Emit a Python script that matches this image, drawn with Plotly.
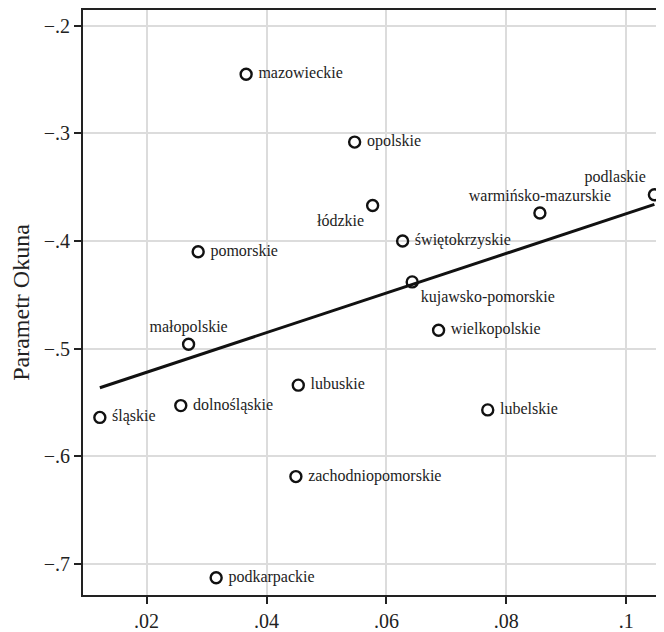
import numpy as np
import plotly.graph_objects as go

regions = ["mazowieckie", "opolskie", "łódzkie", "świętokrzyskie", "warmińsko-mazurskie",
           "podlaskie", "kujawsko-pomorskie", "wielkopolskie", "pomorskie", "małopolskie",
           "lubuskie", "dolnośląskie", "śląskie", "zachodniopomorskie", "podkarpackie", "lubelskie"]
x_vals = [0.0366, 0.0547, 0.0577, 0.0627, 0.0856,
          0.1047, 0.0643, 0.0687, 0.0286, 0.0270,
          0.0453, 0.0257, 0.0122, 0.0449, 0.0316, 0.0769]
y_vals = [-0.245, -0.308, -0.367, -0.400, -0.374,
          -0.357, -0.438, -0.483, -0.410, -0.496,
          -0.534, -0.553, -0.564, -0.619, -0.713, -0.557]
label_pos = ["middle right", "middle right", "bottom left", "middle right", "top center",
             "top left", "bottom right", "middle right", "middle right", "top center",
             "middle right", "middle right", "middle right", "middle right", "middle right", "middle right"]

x_ticks = [0.02, 0.04, 0.06, 0.08, 0.1]
x_ticktext = [".02", ".04", ".06", ".08", ".1"]
y_ticks = [-0.7, -0.6, -0.5, -0.4, -0.3, -0.2]
y_ticktext = ["−.7", "−.6", "−.5", "−.4", "−.3", "−.2"]

xs = np.array(x_vals)
ys = np.array(y_vals)
slope, intercept = np.polyfit(xs, ys, 1)
fit_x = [xs.min(), xs.max()]
fit_y = [intercept + slope * v for v in fit_x]

font = "Liberation Serif, Times New Roman, serif"
ink = "#222222"
label_offset_sizes = [18 if p == "middle right" else 12 for p in label_pos]

fig = go.Figure()
fig.add_trace(go.Scatter(x=fit_x, y=fit_y, mode="lines",
                         line=dict(color="#111111", width=3), hoverinfo="skip"))
fig.add_trace(go.Scatter(x=x_vals, y=y_vals, mode="markers",
                         marker=dict(symbol="circle-open", size=11, color="#111111",
                                     line=dict(width=2.4, color="#111111"))))
fig.add_trace(go.Scatter(x=x_vals, y=y_vals, mode="markers+text", text=regions,
                         textposition=label_pos, hoverinfo="skip",
                         textfont=dict(family=font, size=16, color=ink),
                         marker=dict(size=label_offset_sizes, color="rgba(0,0,0,0)",
                                     line=dict(width=0))))

fig.update_layout(
    width=656, height=624, showlegend=False,
    paper_bgcolor="white", plot_bgcolor="white",
    margin=dict(l=75, r=0, t=1, b=35),
    font=dict(family=font, color=ink),
    xaxis=dict(range=[0.00939, 0.1063], tickvals=x_ticks, ticktext=x_ticktext,
               showgrid=True, gridcolor="#dcdcdc", gridwidth=1.5, zeroline=False,
               showline=True, linecolor=ink, linewidth=2, mirror=True,
               ticks="outside", ticklen=7, tickwidth=1.5, tickcolor=ink,
               tickfont=dict(family=font, size=20, color=ink)),
    yaxis=dict(range=[-0.7291, -0.1852], tickvals=y_ticks, ticktext=y_ticktext,
               showgrid=True, gridcolor="#dcdcdc", gridwidth=1.5, zeroline=False,
               showline=True, linecolor=ink, linewidth=2,
               ticks="outside", ticklen=7, tickwidth=1.5, tickcolor=ink,
               tickfont=dict(family=font, size=20, color=ink),
               title=dict(text="Parametr Okuna", font=dict(family=font, size=24, color=ink),
                          standoff=10)),
)
fig.write_html("out.html")
